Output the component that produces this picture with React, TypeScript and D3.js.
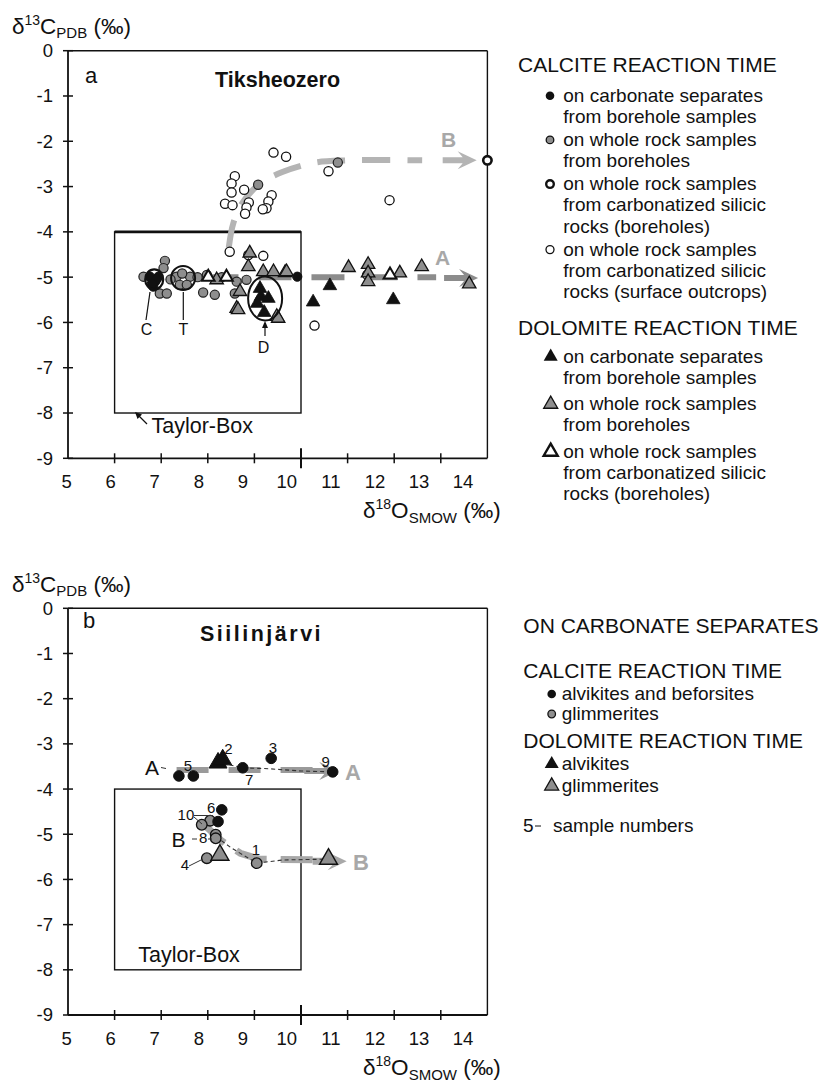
import React from "react";
import * as d3 from "d3";

type P = [number, number];

const FONT = "'Liberation Sans', Arial, Helvetica, sans-serif";
const W = 830;
const H = 1089;

// ---------- axis ticks ----------
const xTicks = [5, 6, 7, 8, 9, 10, 11, 12, 13, 14];
const yTicks = [0, -1, -2, -3, -4, -5, -6, -7, -8, -9];
const taylorX = [6, 10];
const taylorY = [-4, -8];

// ---------- panel a : Tiksheozero ----------
const aCalciteSep: P[] = [
  [6.76, -4.99], [6.87, -5.1], [6.94, -4.99], [6.83, -5.21], [6.9, -5.05], [6.8, -5.14], [9.92, -4.99],
];
const aCalciteWhole: P[] = [
  [7.08, -4.64], [6.62, -4.99], [6.97, -5.36], [7.12, -5.36], [7.9, -5.34], [8.15, -5.39], [8.58, -5.36],
  [7.62, -4.99], [7.33, -4.99], [7.4, -5.17], [7.55, -5.17], [7.98, -4.95], [8.83, -5.06], [8.62, -5.1],
  [7.2, -5.05], [7.05, -4.8], [8.3, -5.0], [7.78, -5.0], [7.45, -4.92], [9.08, -2.96], [10.79, -2.47],
];
const aCalciteCarbBore: P[] = [[14.0, -2.42]];
const aCalciteCarbSurf: P[] = [
  [9.41, -2.25], [9.68, -2.34], [10.59, -2.66], [11.9, -3.3], [8.58, -2.77], [8.51, -2.93], [8.51, -3.13],
  [8.37, -3.38], [8.53, -3.41], [8.78, -3.07], [8.88, -3.35], [8.83, -3.46], [8.8, -3.6], [9.37, -3.19],
  [9.3, -3.33], [9.26, -3.48], [9.18, -3.5], [8.47, -4.44], [9.19, -4.53], [8.87, -4.51], [10.29, -6.07],
  [11.42, -4.95],
];
const aDolomiteSep: P[] = [
  [9.12, -5.25], [9.14, -5.43], [9.06, -5.58], [9.3, -5.47], [9.21, -5.78], [10.62, -5.19], [10.26, -5.55],
  [11.98, -5.5],
];
const aDolomiteWhole: P[] = [
  [8.9, -4.47], [8.87, -4.77], [9.19, -4.88], [9.41, -4.88], [9.66, -4.9], [8.69, -5.32], [8.62, -5.69],
  [9.48, -5.87], [8.19, -5.06], [8.65, -5.72], [9.51, -5.91], [9.69, -4.88], [11.02, -4.79], [11.44, -4.72],
  [11.44, -4.91], [11.44, -5.1], [12.12, -4.91], [12.59, -4.77], [13.61, -5.15],
];
const aDolomiteCarbBore: P[] = [[8.01, -5.0], [8.4, -5.0], [11.91, -4.95]];
const aTrendA: P[] = [[7.95, -5.0], [12.9, -5.0]];
const aTipA: P = [13.8, -5.02];
const aTrendB: P[] = [
  [8.45, -4.35], [8.55, -3.8], [8.75, -3.35], [9.1, -2.95], [9.6, -2.68], [10.3, -2.47], [11.0, -2.42], [12.6, -2.42],
];
const aTipB: P = [13.77, -2.42];

// ---------- panel b : Siilinjärvi ----------
const bCalciteAlvikite: P[] = [
  [7.38, -3.71], [7.69, -3.71], [8.75, -3.53], [9.36, -3.32], [10.68, -3.62], [8.3, -4.46], [8.22, -4.72],
];
const bCalciteGlimmerite: P[] = [
  [8.05, -4.7], [7.87, -4.79], [8.17, -5.01], [8.17, -5.09], [7.98, -5.53], [9.05, -5.64],
];
const bDolomiteAlvikite: P[] = [[8.22, -3.42], [8.32, -3.35]];
const bDolomiteGlimmerite: P[] = [[8.26, -5.46], [10.59, -5.55]];
const bSampleLabels = ["5", "2", "3", "7", "9", "6", "10", "8", "4", "1"];
const bSampleLabelPos: P[] = [
  [7.575, -3.59], [8.44, -3.22], [9.4, -3.21], [8.89, -3.91], [10.53, -3.52], [8.07, -4.54],
  [7.53, -4.68], [7.9, -5.2], [7.51, -5.79], [9.03, -5.46],
];
const bTrendA: P[] = [[7.33, -3.58], [10.3, -3.58]];
const bTipA: P = [10.8, -3.6];
const bTrendB: P[] = [[7.85, -4.72], [8.3, -5.15], [8.7, -5.42], [9.1, -5.55], [10.45, -5.57]];
const bTipB: P = [10.98, -5.6];
const bLinkA: P[] = [[8.32, -3.43], [8.75, -3.53], [9.3, -3.55], [10.0, -3.6], [10.68, -3.62]];
const bLinkB: P[] = [[8.17, -5.05], [8.5, -5.3], [9.05, -5.64], [9.6, -5.57], [10.59, -5.55]];

// ---------- legends ----------
const legendA1Title = "CALCITE REACTION TIME";
const legendA1Items = [
  { sym: "dotBlack", lines: ["on carbonate separates", "from borehole samples"] },
  { sym: "dotGray", lines: ["on whole rock samples", "from boreholes"] },
  { sym: "ringThick", lines: ["on whole rock samples", "from carbonatized silicic", "rocks (boreholes)"] },
  { sym: "ringThin", lines: ["on whole rock samples", "from carbonatized silicic", "rocks (surface outcrops)"] },
];
const legendA2Title = "DOLOMITE REACTION TIME";
const legendA2Items = [
  { sym: "triBlack", lines: ["on carbonate separates", "from borehole samples"] },
  { sym: "triGray", lines: ["on whole rock samples", "from boreholes"] },
  { sym: "triOpen", lines: ["on whole rock samples", "from carbonatized silicic", "rocks (boreholes)"] },
];
const legendB0Title = "ON CARBONATE SEPARATES";
const legendB1Title = "CALCITE REACTION TIME";
const legendB1Items = [
  { sym: "dotBlack", lines: ["alvikites and beforsites"] },
  { sym: "dotGray", lines: ["glimmerites"] },
];
const legendB2Title = "DOLOMITE REACTION TIME";
const legendB2Items = [
  { sym: "triBlack", lines: ["alvikites"] },
  { sym: "triGray", lines: ["glimmerites"] },
];

// ---------- scales ----------
const x = d3.scaleLinear().domain([5, 14]).range([68, 487.4]);
const xLab = d3.scaleLinear().domain([5, 14]).range([66.7, 463]);
const yA = d3.scaleLinear().domain([0, -9]).range([50.7, 458.3]);
const yB = d3.scaleLinear().domain([0, -9]).range([608.3, 1015]);

const GRAY = "#8e8e8e";

type YS = d3.ScaleLinear<number, number>;

function Axes({ ys }: { ys: YS }) {
  const [x0, x1] = x.range();
  const [yt, yb] = ys.range();
  return (
    <g>
      <g stroke="#111" fill="none">
        <line x1={x0} y1={yt} x2={x1} y2={yt} strokeWidth={1.4} />
        <line x1={x1} y1={yt} x2={x1} y2={yb} strokeWidth={1.4} />
        <line x1={x0} y1={yt} x2={x0} y2={yb} strokeWidth={1.8} />
        <line x1={x0} y1={yb} x2={x1} y2={yb} strokeWidth={1.8} />
        {yTicks.map((t) => (
          <line key={t} x1={x0 - 5} x2={x0 + 5} y1={ys(t)} y2={ys(t)} strokeWidth={1.5} />
        ))}
        {xTicks.slice(1, -1).map((t) => {
          const L = t === 10 ? 10 : 5;
          return <line key={t} x1={x(t)} x2={x(t)} y1={yb - L} y2={yb + L} strokeWidth={t === 10 ? 2 : 1.5} />;
        })}
      </g>
      <g fontFamily={FONT} fontSize={18.5} fill="#111">
        {yTicks.map((t) => (
          <text key={t} x={x0 - 15} y={ys(t)} dy="0.35em" textAnchor="end">
            {t === 0 ? "0" : "-" + Math.abs(t)}
          </text>
        ))}
        {xTicks.map((t) => (
          <text key={t} x={xLab(t)} y={yb + 30} textAnchor="middle">
            {t}
          </text>
        ))}
      </g>
    </g>
  );
}

function YLabel({ yBase }: { yBase: number }) {
  return (
    <text x={12} y={yBase} fontFamily={FONT} fontSize={22.5} fill="#111">
      δ<tspan dy={-9} fontSize={14}>13</tspan>
      <tspan dy={9}>C</tspan>
      <tspan dy={4} fontSize={15}>PDB</tspan>
      <tspan dy={-4}> (‰)</tspan>
    </text>
  );
}

function XLabel({ yBase }: { yBase: number }) {
  return (
    <text x={363} y={yBase} fontFamily={FONT} fontSize={22.5} fill="#111">
      δ<tspan dy={-9} fontSize={14}>18</tspan>
      <tspan dy={9}>O</tspan>
      <tspan dy={5} fontSize={15}>SMOW</tspan>
      <tspan dy={-5}> (‰)</tspan>
    </text>
  );
}

function TaylorBox({ ys, thickTop }: { ys: YS; thickTop: boolean }) {
  const xa = x(taylorX[0]), xb = x(taylorX[1]);
  const ya = ys(taylorY[0]), yb = ys(taylorY[1]);
  return (
    <g stroke="#111" fill="none">
      <rect x={xa} y={ya} width={xb - xa} height={yb - ya} strokeWidth={1.4} />
      {thickTop && <line x1={xa} x2={xb} y1={ya} y2={ya} strokeWidth={2.8} />}
    </g>
  );
}

function Trend({ pts, tip, ys, color, width, dash, curve }: {
  pts: P[]; tip: P; ys: YS; color: string; width: number; dash: string; curve?: boolean;
}) {
  const line = d3
    .line<P>()
    .x((d) => x(d[0]))
    .y((d) => ys(d[1]))
    .curve(curve ? d3.curveCatmullRom.alpha(0.5) : d3.curveLinear);
  const tx = x(tip[0]), ty = ys(tip[1]);
  const hw = width / 2;
  const head = [
    [0, 0], [-19, -9], [-14, -hw], [-34, -hw], [-34, hw], [-14, hw], [-19, 9],
  ].map(([a, b]) => `${tx + a},${ty + b}`).join(" ");
  return (
    <g>
      <path d={line(pts) || ""} fill="none" stroke={color} strokeWidth={width} strokeDasharray={dash} />
      <polygon points={head} fill={color} />
    </g>
  );
}

function Dots({ pts, ys, r, fill, stroke, sw }: { pts: P[]; ys: YS; r: number; fill: string; stroke: string; sw: number }) {
  return (
    <g>
      {pts.map((d, i) => (
        <circle key={i} cx={x(d[0])} cy={ys(d[1])} r={r} fill={fill} stroke={stroke} strokeWidth={sw} />
      ))}
    </g>
  );
}

function Tris({ pts, ys, size, fill, stroke, sw }: { pts: P[]; ys: YS; size: number; fill: string; stroke: string; sw: number }) {
  const p = d3.symbol().type(d3.symbolTriangle).size(size)() || "";
  return (
    <g>
      {pts.map((d, i) => (
        <path key={i} d={p} transform={`translate(${x(d[0])},${ys(d[1])})`} fill={fill} stroke={stroke} strokeWidth={sw} strokeLinejoin="miter" />
      ))}
    </g>
  );
}

function LegendSym({ sym, cx, cy }: { sym: string; cx: number; cy: number }) {
  const tri = d3.symbol().type(d3.symbolTriangle).size(85)() || "";
  switch (sym) {
    case "dotBlack":
      return <circle cx={cx} cy={cy} r={4.3} fill="#111" />;
    case "dotGray":
      return <circle cx={cx} cy={cy} r={3.8} fill={GRAY} stroke="#111" strokeWidth={1.3} />;
    case "ringThick":
      return <circle cx={cx} cy={cy} r={3.8} fill="#fff" stroke="#111" strokeWidth={2.4} />;
    case "ringThin":
      return <circle cx={cx} cy={cy} r={4} fill="#fff" stroke="#111" strokeWidth={1.3} />;
    case "triBlack":
      return <path d={tri} transform={`translate(${cx},${cy})`} fill="#111" />;
    case "triGray":
      return <path d={tri} transform={`translate(${cx},${cy})`} fill={GRAY} stroke="#111" strokeWidth={1.3} />;
    default:
      return <path d={tri} transform={`translate(${cx},${cy})`} fill="#fff" stroke="#111" strokeWidth={2.4} />;
  }
}

function LegendBlock({ title, titleX, titleY, items, firstY, lineH, gap, symX, textX, fs }: {
  title: string; titleX: number; titleY: number; items: { sym: string; lines: string[] }[];
  firstY: number; lineH: number; gap: number; symX: number; textX: number; fs: number;
}) {
  let y = firstY;
  const out: React.ReactNode[] = [];
  items.forEach((it, i) => {
    out.push(<LegendSym key={"s" + i} sym={it.sym} cx={symX} cy={y - 6} />);
    it.lines.forEach((ln, j) => {
      out.push(
        <text key={`t${i}-${j}`} x={textX} y={y + j * lineH} fontSize={fs}>
          {ln}
        </text>
      );
    });
    y += it.lines.length * lineH + gap;
  });
  return (
    <g fontFamily={FONT} fill="#111">
      <text x={titleX} y={titleY} fontSize={21}>{title}</text>
      {out}
    </g>
  );
}

function PanelA() {
  const ys = yA;
  const C: P = [6.85, -5.05];
  const T: P = [7.47, -5.02];
  const D: P = [9.23, -5.47];
  return (
    <g>
      <Axes ys={ys} />
      <YLabel yBase={34} />
      <XLabel yBase={518} />
      <TaylorBox ys={ys} thickTop={true} />
      <text x={85} y={83.3} fontFamily={FONT} fontSize={22} fill="#111">a</text>
      <text x={215} y={87.3} fontFamily={FONT} fontSize={21.5} fontWeight="bold" fill="#111">Tiksheozero</text>

      <Trend pts={aTrendB} tip={aTipB} ys={ys} color="#b4b4b4" width={6} dash="28 17" curve />
      <Trend pts={aTrendA} tip={aTipA} ys={ys} color="#8c8c8c" width={6} dash="33 20" />
      <text x={441} y={146.5} fontFamily={FONT} fontSize={21} fontWeight="bold" fill="#a8a8a8">B</text>
      <text x={435} y={265} fontFamily={FONT} fontSize={21} fontWeight="bold" fill="#a8a8a8">A</text>

      <Dots pts={aCalciteCarbSurf} ys={ys} r={4.6} fill="#fff" stroke="#111" sw={1.3} />
      <Dots pts={aCalciteWhole} ys={ys} r={4.6} fill={GRAY} stroke="#222" sw={1.2} />
      <Tris pts={aDolomiteWhole} ys={ys} size={78} fill={GRAY} stroke="#111" sw={1.3} />
      <Tris pts={aDolomiteCarbBore} ys={ys} size={70} fill="#fff" stroke="#111" sw={2} />
      <Tris pts={aDolomiteSep} ys={ys} size={80} fill="#111" stroke="#111" sw={0.8} />
      <Dots pts={aCalciteSep} ys={ys} r={4.6} fill="#111" stroke="#111" sw={1} />
      <Dots pts={aCalciteCarbBore} ys={ys} r={4.2} fill="#fff" stroke="#111" sw={2.6} />

      {/* annotation rings */}
      <ellipse cx={x(C[0])} cy={ys(C[1])} rx={9} ry={10} fill="none" stroke="#111" strokeWidth={2.2} />
      <ellipse cx={x(T[0])} cy={ys(T[1])} rx={12} ry={12} fill="none" stroke="#111" strokeWidth={2} />
      <ellipse cx={x(D[0])} cy={ys(D[1])} rx={17} ry={22} fill="none" stroke="#111" strokeWidth={2} />
      <g stroke="#111" strokeWidth={1.2} fill="none">
        <line x1={146} y1={320} x2={150} y2={292} />
        <line x1={183.3} y1={320} x2={183.3} y2={292} />
        <line x1={265} y1={336} x2={265} y2={324} />
        <line x1={147} y1={424} x2={137} y2={414} />
      </g>
      <polygon points="265,321 262,328 268,328" fill="#111" />
      <polygon points="135,412 142,414.5 137.5,419" fill="#111" />
      <g fontFamily={FONT} fontSize={16} fill="#111" textAnchor="middle">
        <text x={146.5} y={335}>C</text>
        <text x={183.3} y={335}>T</text>
        <text x={263.5} y={353}>D</text>
      </g>
      <text x={151.5} y={433.3} fontFamily={FONT} fontSize={21.5} fill="#111">Taylor-Box</text>
    </g>
  );
}

function PanelB() {
  const ys = yB;
  const link = d3.line<P>().x((d) => x(d[0])).y((d) => ys(d[1]));
  return (
    <g>
      <Axes ys={ys} />
      <YLabel yBase={592} />
      <XLabel yBase={1075} />
      <TaylorBox ys={ys} thickTop={false} />
      <text x={83} y={628.3} fontFamily={FONT} fontSize={22} fill="#111">b</text>
      <text x={200} y={641} fontFamily={FONT} fontSize={21.5} fontWeight="bold" letterSpacing={2.5} fill="#111">Siilinjärvi</text>
      <text x={138.3} y={961.7} fontFamily={FONT} fontSize={21.5} fill="#111">Taylor-Box</text>

      <Trend pts={bTrendA} tip={bTipA} ys={ys} color="#9a9a9a" width={6} dash="32 20" />
      <Trend pts={bTrendB} tip={bTipB} ys={ys} color="#a8a8a8" width={7} dash="32 14" />
      <path d={link(bLinkA) || ""} fill="none" stroke="#333" strokeWidth={1.1} strokeDasharray="4 3" />
      <path d={link(bLinkB) || ""} fill="none" stroke="#333" strokeWidth={1.1} strokeDasharray="4 3" />

      <Dots pts={bCalciteGlimmerite} ys={ys} r={5.3} fill={GRAY} stroke="#111" sw={1.3} />
      <Dots pts={bCalciteAlvikite} ys={ys} r={5.3} fill="#111" stroke="#111" sw={1} />
      <Tris pts={bDolomiteGlimmerite} ys={ys} size={140} fill={GRAY} stroke="#111" sw={1.4} />
      <Tris pts={bDolomiteAlvikite} ys={ys} size={140} fill="#111" stroke="#111" sw={1} />

      <g fontFamily={FONT} fontSize={15} fill="#111" textAnchor="middle">
        {bSampleLabels.map((s, i) => (
          <text key={s} x={x(bSampleLabelPos[i][0])} y={ys(bSampleLabelPos[i][1])}>
            {s}
          </text>
        ))}
      </g>
      <g stroke="#333" strokeWidth={1} fill="none">
        <line x1={194} y1={815.5} x2={213} y2={815.5} />
        <line x1={194} y1={817} x2={202} y2={824} />
        <line x1={189} y1={866} x2={203} y2={859} />
        <line x1={208} y1={839} x2={212} y2={839} />
        <line x1={161} y1={767.5} x2={166} y2={768.5} />
        <line x1={192} y1={839} x2={197} y2={839} />
      </g>
      <text x={145} y={775} fontFamily={FONT} fontSize={21} fill="#111">A</text>
      <text x={171.5} y={846.7} fontFamily={FONT} fontSize={21} fill="#111">B</text>
      <text x={345} y={780} fontFamily={FONT} fontSize={22} fontWeight="bold" fill="#a8a8a8">A</text>
      <text x={353} y={870} fontFamily={FONT} fontSize={22} fontWeight="bold" fill="#a8a8a8">B</text>
    </g>
  );
}

export default function App() {
  return (
    <svg width={W} height={H} viewBox={`0 0 ${W} ${H}`} style={{ position: "absolute", left: 0, top: 0, background: "#fff" }}>
      <rect width={W} height={H} fill="#fff" />
      <PanelA />
      <PanelB />
      <LegendBlock title={legendA1Title} titleX={518} titleY={71.7} items={legendA1Items} firstY={101.7}
        lineH={21.3} gap={1.6} symX={550} textX={563.3} fs={19} />
      <LegendBlock title={legendA2Title} titleX={518} titleY={335} items={legendA2Items} firstY={362.7}
        lineH={21} gap={5.5} symX={550.7} textX={563.3} fs={19} />
      <g fontFamily={FONT} fill="#111">
        <text x={523.3} y={633.3} fontSize={21}>{legendB0Title}</text>
      </g>
      <LegendBlock title={legendB1Title} titleX={523.3} titleY={678} items={legendB1Items} firstY={700}
        lineH={20} gap={0} symX={551.7} textX={561.7} fs={19} />
      <LegendBlock title={legendB2Title} titleX={523.3} titleY={748} items={legendB2Items} firstY={770}
        lineH={22} gap={0} symX={551.7} textX={561.7} fs={19} />
      <g fontFamily={FONT} fill="#111" fontSize={19}>
        <text x={523} y={832}>5</text>
        <line x1={535} x2={541} y1={826} y2={826} stroke="#111" strokeWidth={1} />
        <text x={553} y={832}>sample numbers</text>
      </g>
    </svg>
  );
}
